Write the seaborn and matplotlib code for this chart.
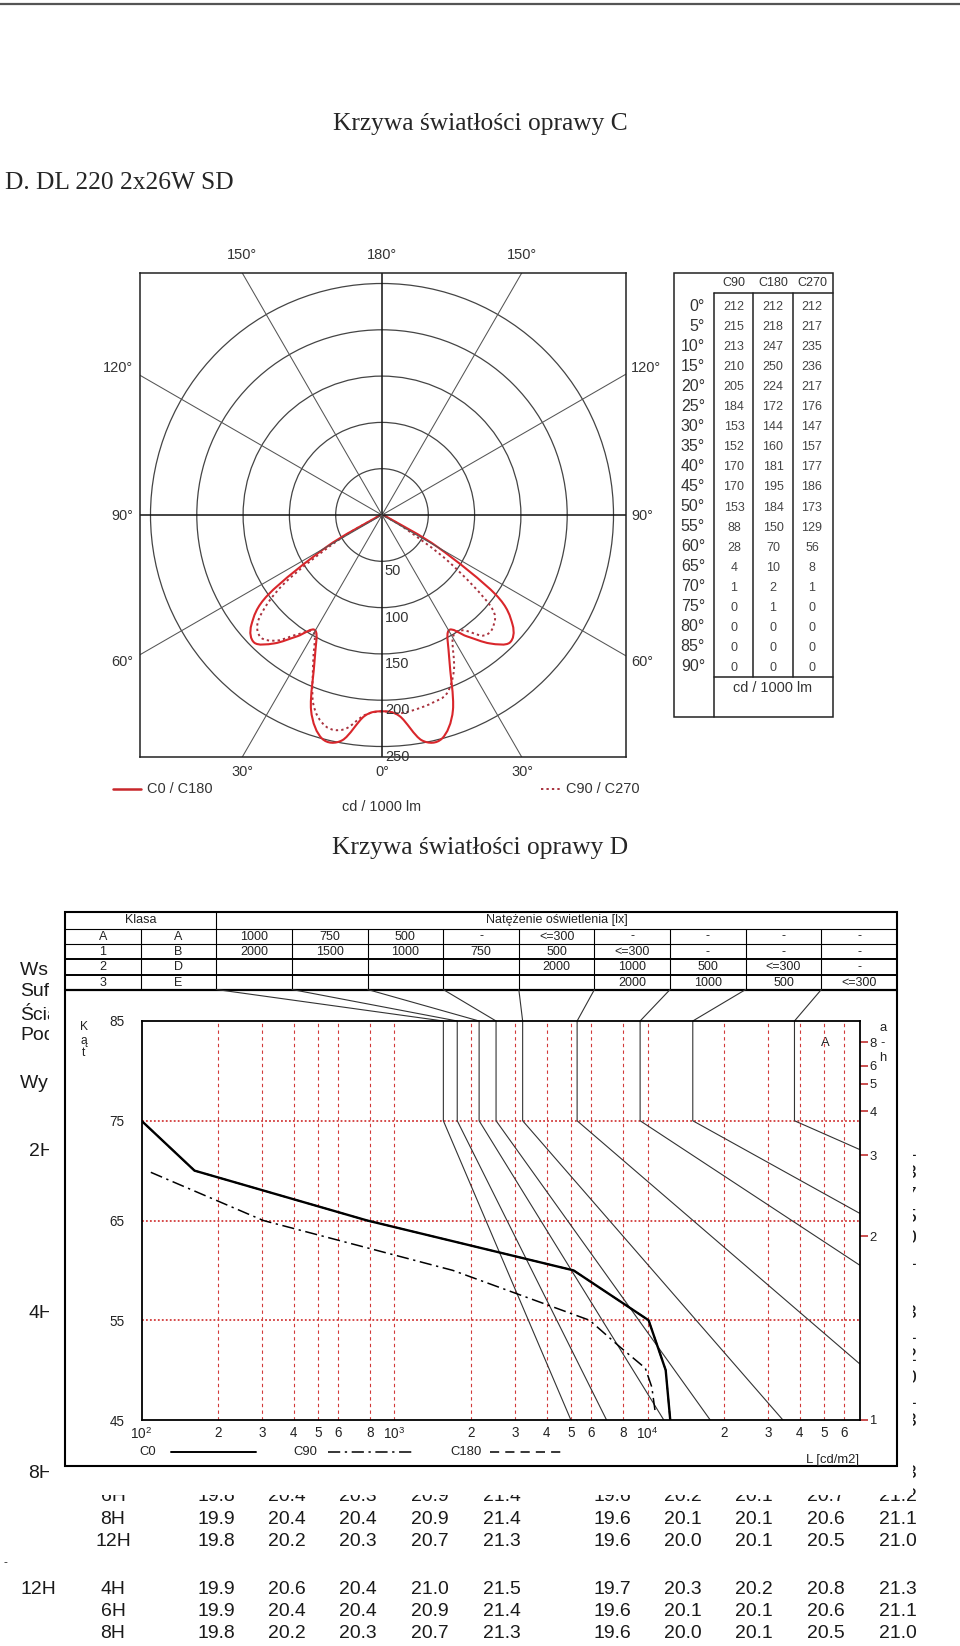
import numpy as np
import matplotlib
matplotlib.use("Agg")
import matplotlib.pyplot as plt
import seaborn as sns
from matplotlib import font_manager
from matplotlib.patches import Circle, Rectangle, ConnectionPatch, PathPatch
from matplotlib.path import Path
from matplotlib.ticker import NullLocator

# ---------------- data: luminous intensity (cd / 1000 lm) ----------------
gamma = [0, 5, 10, 15, 20, 25, 30, 35, 40, 45, 50, 55, 60, 65, 70, 75, 80, 85, 90]
c90 = [212, 215, 213, 210, 205, 184, 153, 152, 170, 170, 153, 88, 28, 4, 1, 0, 0, 0, 0]
c180 = [212, 218, 247, 250, 224, 172, 144, 160, 181, 195, 184, 150, 70, 10, 2, 1, 0, 0, 0]
c270 = [212, 217, 235, 236, 217, 176, 147, 157, 177, 186, 173, 129, 56, 8, 1, 0, 0, 0, 0]
rings = [50, 100, 150, 200, 250]

# ---------------- data: luminance limiting diagram ----------------
klasa = [["A", "A"], ["1", "B"], ["2", "D"], ["3", "E"]]
lux = [["1000", "750", "500", "-", "<=300", "-", "-", "-", "-"],
       ["2000", "1500", "1000", "750", "500", "<=300", "-", "-", "-"],
       ["", "", "", "", "2000", "1000", "500", "<=300", "-"],
       ["", "", "", "", "", "2000", "1000", "500", "<=300"]]
lim_top = [1560, 1770, 2160, 2520, 3210, 5270, 9350, 15100, 38100]
lim_end = [4980, 6890, 11600, 17700, 34300, 69200, 69200, 69200, 69200]
lim_end_ang = [45, 45, 45, 45, 45, 50.6, 60.5, 65.7, 72.1]

lum_ang = [45, 50, 55, 60, 65, 70, 75]
lum_c0 = [12300, 11800, 10100, 5100, 780, 162, 100]
lum_c180 = [12300, 11800, 10100, 5100, 780, 162, 100]
lum_c90_ang = [46, 48.3, 50.2, 52.3, 55, 60, 65, 70]
lum_c90 = [10700, 10400, 9800, 7800, 5900, 1700, 303, 105]

grid_L = [200, 300, 400, 500, 600, 800, 1000, 2000, 3000, 4000, 5000, 6000, 8000,
          10000, 20000, 30000, 40000, 50000, 60000]
x_ticks = [100, 200, 300, 400, 500, 600, 800, 1000, 2000, 3000, 4000, 5000, 6000, 8000,
           10000, 20000, 30000, 40000, 50000, 60000]
x_labels = [r"$\mathregular{10^2}$", "2", "3", "4", "5", "6", "8", r"$\mathregular{10^3}$",
            "2", "3", "4", "5", "6", "8", r"$\mathregular{10^4}$", "2", "3", "4", "5", "6"]
ang_ticks = [45, 55, 65, 75, 85]
ah_ticks = [1, 2, 3, 4, 5, 6, 8]

# ---------------- data: UGR table fragments ----------------
refl_labels = ["Współczynniki odbicia", "Sufit", "Ściany", "Podłoga", "Wymiary pomieszczenia"]
refl_last = ["0.3", "0.3", "0.2"]
block_labels = ["2H", "4H", "8H", "12H"]
block_2h_last = ["21.1", "21.3", "21.7", "21.5", "21.0", "21.1"]
block_4h_last = ["21.3", "21.1", "21.2", "21.0", "21.1", "21.3"]
ugr_8h = [("4H", ["19.9", "20.6", "20.4", "21.0", "21.5", "19.7", "20.3", "20.2", "20.8", "21.3"]),
          ("6H", ["19.8", "20.4", "20.3", "20.9", "21.4", "19.6", "20.2", "20.1", "20.7", "21.2"]),
          ("8H", ["19.9", "20.4", "20.4", "20.9", "21.4", "19.6", "20.1", "20.1", "20.6", "21.1"]),
          ("12H", ["19.8", "20.2", "20.3", "20.7", "21.3", "19.6", "20.0", "20.1", "20.5", "21.0"])]
ugr_12h = [("4H", ["19.9", "20.6", "20.4", "21.0", "21.5", "19.7", "20.3", "20.2", "20.8", "21.3"]),
           ("6H", ["19.9", "20.4", "20.4", "20.9", "21.4", "19.6", "20.1", "20.1", "20.6", "21.1"]),
           ("8H", ["19.8", "20.2", "20.3", "20.7", "21.3", "19.6", "20.0", "20.1", "20.5", "21.0"])]

# ---------------- page setup ----------------
W, H = 960, 1646
sns.set_style("white")
names = {f.name for f in font_manager.fontManager.ttflist}
NARROW = "Liberation Sans Narrow" if "Liberation Sans Narrow" in names else "Liberation Sans"
SANS = "Liberation Sans"
SERIF = "Liberation Serif"
plt.rcParams["font.family"] = [SANS, "DejaVu Sans"]


def pt(px):
    return px * 0.72


def fbox(x0, y0, x1, y1):
    return [x0 / W, 1 - y1 / H, (x1 - x0) / W, (y1 - y0) / H]


def smooth_path(xs, ys):
    # Catmull-Rom curve through the measured points, as cubic Bezier segments
    p = np.column_stack([xs, ys]).astype(float)
    q = np.vstack([p[0], p, p[-1]])
    verts, codes = [p[0]], [Path.MOVETO]
    for i in range(1, len(q) - 2):
        c1 = q[i] + (q[i + 1] - q[i - 1]) / 6
        c2 = q[i + 1] - (q[i + 2] - q[i]) / 6
        verts += [c1, c2, q[i + 1]]
        codes += [Path.CURVE4] * 3
    return Path(verts, codes)


fig = plt.figure(figsize=(W / 100, H / 100), dpi=100)
fig.patch.set_facecolor("white")

pg = fig.add_axes([0, 0, 1, 1])
pg.set_xlim(0, W)
pg.set_ylim(H, 0)
pg.axis("off")

# top rule and titles
pg.plot([0, W], [4, 4], color="#555555", lw=1.6)
pg.text(480, 124, "Krzywa światłości oprawy C", family=SERIF, fontsize=pt(25.5),
        ha="center", va="center")
pg.text(5, 183, "D. DL 220 2x26W SD", family=SERIF, fontsize=pt(25.5), ha="left", va="center")
pg.text(480, 848, "Krzywa światłości oprawy D", family=SERIF, fontsize=pt(25.5),
        ha="center", va="center")

# ---------------- polar intensity diagram (drawn on cartesian axes) ----------------
S = 0.926  # px per cd
ax_p = fig.add_axes(fbox(140, 273, 626, 757))
ax_p.set_xlim((140 - 382) / S, (626 - 382) / S)
ax_p.set_ylim(-(757 - 515) / S, (515 - 273) / S)
ax_p.set_xticks([])
ax_p.set_yticks([])
for sp in ax_p.spines.values():
    sp.set_color("#222222")
    sp.set_linewidth(1.1)

lab_font = dict(fontsize=pt(14.5), color="#333333")
for r in rings:
    ax_p.add_patch(Circle((0, 0), r, fill=False, ec="#444444", lw=0.9))
    ax_p.text(3, -(r + 11), str(r), ha="left", va="center", clip_on=False, **lab_font)
for a in range(0, 360, 30):
    t = np.radians(a)
    main = a % 90 == 0
    ax_p.plot([0, 500 * np.sin(t)], [0, -500 * np.cos(t)],
              color="#111111" if main else "#555555", lw=1.1 if main else 0.75)

g = np.radians(gamma)
r180, r90, r270 = np.array(c180), np.array(c90), np.array(c270)
sin_g, cos_g = np.sin(g), np.cos(g)
xs_solid = np.concatenate([-(r180 * sin_g)[::-1], (r180 * sin_g)[1:]])
ys_solid = np.concatenate([-(r180 * cos_g)[::-1], (-r180 * cos_g)[1:]])
xs_dot = np.concatenate([-(r270 * sin_g)[::-1], (r90 * sin_g)[1:]])
ys_dot = np.concatenate([-(r270 * cos_g)[::-1], (-r90 * cos_g)[1:]])
ax_p.add_patch(PathPatch(smooth_path(xs_dot, ys_dot), fill=False, ec="#a8323e", lw=1.4,
                         linestyle=(0, (1.2, 1.6))))
ax_p.add_patch(PathPatch(smooth_path(xs_solid, ys_solid), fill=False, ec="#d9262b", lw=1.5))

for txt, x, y, ha in [("150°", 242, 255, "center"), ("180°", 382, 255, "center"),
                      ("150°", 522, 255, "center"), ("120°", 133, 368, "right"),
                      ("90°", 133, 516, "right"), ("60°", 133, 662, "right"),
                      ("120°", 631, 368, "left"), ("90°", 631, 516, "left"),
                      ("60°", 631, 662, "left"), ("30°", 242, 772, "center"),
                      ("0°", 382, 772, "center"), ("30°", 522, 772, "center")]:
    pg.text(x, y, txt, ha=ha, va="center", **lab_font)

pg.plot([113, 141], [789, 789], color="#c8262b", lw=1.8)
pg.text(147, 789, "C0 / C180", va="center", **lab_font)
pg.plot([541, 562], [789, 789], color="#a8323e", lw=1.4, linestyle=(0, (1.2, 1.6)))
pg.text(566, 789, "C90 / C270", va="center", **lab_font)
pg.text(382, 807, "cd / 1000 lm", ha="center", va="center", **lab_font)

# ---------------- intensity table ----------------
pg.add_patch(Rectangle((674, 273), 833 - 674, 717 - 273, fill=False, ec="#222222", lw=1.1))
pg.plot([714, 714], [293, 717], color="#222222", lw=1.1)
pg.plot([753, 753], [293, 677], color="#222222", lw=1.1)
pg.plot([793, 793], [293, 677], color="#222222", lw=1.1)
pg.plot([714, 833], [293, 293], color="#222222", lw=1.1)
pg.plot([714, 833], [677, 677], color="#222222", lw=1.1)
col_x = [734, 773, 812]
for name, x in zip(["C90", "C180", "C270"], col_x):
    pg.text(x, 283, name, fontsize=pt(12.5), color="#333333", ha="center", va="center")
for i, a in enumerate(gamma):
    y = 306 + 20.05 * i
    pg.text(705, y, f"{a}°", fontsize=pt(16), color="#333333", ha="right", va="center")
    for x, col in zip(col_x, [c90, c180, c270]):
        pg.text(x, y + 1, str(col[i]), fontsize=pt(12.5), color="#444444",
                ha="center", va="center")
pg.text(773, 688, "cd / 1000 lm", ha="center", va="center", **lab_font)

# ---------------- UGR table underneath (partly covered) ----------------
ugr_font = dict(family=SANS, fontsize=pt(19.4), color="#1a1a1a", va="center")
refl_y = [970, 991, 1013, 1036, 1084]
for txt, y in zip(refl_labels, refl_y):
    pg.text(20, y, txt, ha="left", **ugr_font)
for txt, y in zip(refl_last, refl_y[1:4]):
    pg.text(898, y, txt, ha="center", **ugr_font)
for lab, y in zip(block_labels, [1152, 1313, 1474, 1589]):
    pg.text(38 if lab == "12H" else 41, y, lab, ha="center", **ugr_font)
pitch = 21.7
for k, v in enumerate(block_2h_last):
    pg.text(898, 1152 + pitch * k, v, ha="center", **ugr_font)
for k, v in enumerate(block_4h_last):
    pg.text(898, 1313 + pitch * k, v, ha="center", **ugr_font)
val_x = [216, 287, 358, 430, 502, 612, 683, 754, 826, 898]
for start, step, rows in [(1474, 22.6, ugr_8h), (1589, 22, ugr_12h)]:
    for k, (lab, vals) in enumerate(rows):
        y = start + step * k
        pg.text(113, y, lab, ha="center", **ugr_font)
        for x, v in zip(val_x, vals):
            pg.text(x, y, v, ha="center", **ugr_font)
pg.text(3, 1563, "-", fontsize=pt(12), color="#333333", va="center")

# white pasted image covering the table
pg.add_patch(Rectangle((49, 905), 913 - 49, 1495 - 905, fc="white", ec="none", zorder=5))
pg.add_patch(Rectangle((65, 912), 897 - 65, 1466 - 912, fill=False, ec="black",
                       lw=1.5, zorder=6))

# class / illuminance table
nar = dict(family=NARROW, fontsize=pt(12.5), color="#222222", ha="center", va="center", zorder=7)
cw = (897 - 65) / 11
row_lines = [928.5, 944, 959, 974.5, 989.5]
for y, lw in zip(row_lines, [0.8, 0.8, 1.4, 1.4, 1.6]):
    pg.plot([65, 897], [y, y], color="black", lw=lw, zorder=7)
pg.plot([65 + cw, 65 + cw], [928.5, 989.5], color="black", lw=0.8, zorder=7)
pg.plot([65 + 2 * cw, 65 + 2 * cw], [912, 989.5], color="black", lw=0.8, zorder=7)
for k in range(3, 11):
    pg.plot([65 + k * cw, 65 + k * cw], [928.5, 989.5], color="black", lw=0.8, zorder=7)
pg.text(65 + cw, 920, "Klasa", **nar)
pg.text((65 + 2 * cw + 897) / 2, 920, "Natężenie oświetlenia [lx]", **nar)
for r, (kl, lx_row) in enumerate(zip(klasa, lux)):
    y = 936.5 + 15.4 * r
    for c, txt in enumerate(kl + lx_row):
        pg.text(65 + cw * (c + 0.5), y, txt, **nar)

# ---------------- luminance limiting diagram ----------------
XMAX = 10 ** (2 + (860 - 141.5) / 253)
ax_g = fig.add_axes(fbox(141.5, 1021, 860, 1420))
ax_g.set_zorder(3)
ax_g.patch.set_alpha(0)
ax_g.set_xscale("log")
ax_g.set_xlim(100, XMAX)
ax_g.set_ylim(45, 85)
ax_g.xaxis.set_minor_locator(NullLocator())
for sp in ax_g.spines.values():
    sp.set_color("black")
    sp.set_linewidth(1.3)

ax_g.vlines(grid_L, 45, 85, colors="#d23a3a", linestyles=(0, (3, 3)), lw=0.8)
ax_g.hlines([55, 65, 75], 100, XMAX, colors="#d23a3a", linestyles=(0, (1, 1.2)), lw=1.3)

for lt, le, ae in zip(lim_top, lim_end, lim_end_ang):
    ax_g.plot([lt, lt, le], [85, 75, ae], color="#333333", lw=0.8)

sns.lineplot(x=lum_c180, y=lum_ang, sort=False, estimator=None, ax=ax_g,
             color="black", lw=1.1, linestyle=(0, (6, 4)))
sns.lineplot(x=lum_c90, y=lum_c90_ang, sort=False, estimator=None, ax=ax_g,
             color="black", lw=1.1, linestyle=(0, (8, 3, 1.5, 3)))
sns.lineplot(x=lum_c0, y=lum_ang, sort=False, estimator=None, ax=ax_g,
             color="black", lw=1.7)

ax_g.set_xticks(x_ticks, x_labels)
ax_g.set_yticks(ang_ticks, [str(a) for a in ang_ticks])
ax_g.tick_params(axis="both", length=0, labelsize=pt(13.5), labelcolor="#222222")
ax_g.tick_params(axis="x", pad=4)
ax_g.tick_params(axis="y", pad=pt(17))
for lab in ax_g.get_xticklabels() + ax_g.get_yticklabels():
    lab.set_family(NARROW)
ax_g.set_xlabel("")
ax_g.set_ylabel("")

sec = ax_g.secondary_yaxis("right", functions=(lambda a: np.tan(np.radians(a)),
                                               lambda v: np.degrees(np.arctan(v))))
sec.set_yticks(ah_ticks, [str(v) for v in ah_ticks])
sec.tick_params(length=pt(8), width=1.2, color="#c03030", labelsize=pt(13),
                labelcolor="#222222", pad=1)
sec.spines["right"].set_visible(False)
for lab in sec.get_yticklabels():
    lab.set_family(NARROW)

# connection lines from table columns to limiting curves
for k, lt in enumerate(lim_top):
    con = ConnectionPatch(xyA=(65 + cw * (k + 2), 989.5), coordsA=pg.transData,
                          xyB=(lt, 85), coordsB=ax_g.transData,
                          color="#333333", lw=0.8, zorder=7)
    pg.add_artist(con)

lbl = dict(family=NARROW, fontsize=pt(13), color="#222222", ha="center", va="center", zorder=7)
for ch, y in zip(["K", "ą", "t"], [1027, 1041, 1053]):
    pg.text(84, y, ch, family=NARROW, fontsize=pt(12), color="#222222",
            ha="center", va="center", zorder=7)
for ch, y in zip(["a", "-", "h"], [1028, 1043, 1058]):
    pg.text(883, y, ch, **lbl)
pg.text(825, 1043, "A", **lbl)
pg.text(832, 1460, "L [cd/m2]", **lbl)
pg.text(148, 1452, "C0", **lbl)
pg.plot([171, 256], [1452, 1452], color="black", lw=1.4, zorder=7)
pg.text(305, 1452, "C90", **lbl)
pg.plot([328, 412], [1452, 1452], color="black", lw=1.1, linestyle=(0, (8, 3, 1.5, 3)), zorder=7)
pg.text(466, 1452, "C180", **lbl)
pg.plot([490, 565], [1452, 1452], color="black", lw=1.1, linestyle=(0, (6, 4)), zorder=7)

fig.savefig("out.png", dpi=100)
